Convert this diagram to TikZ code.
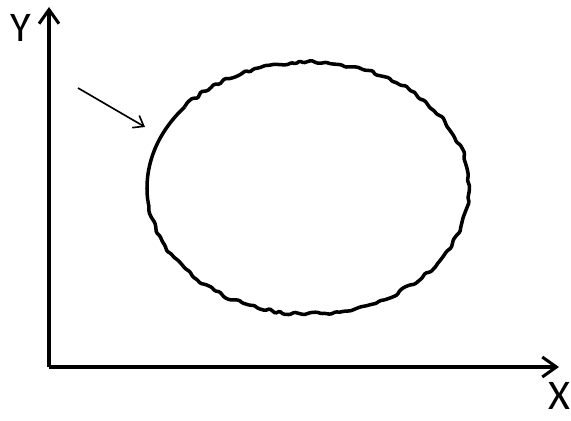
\documentclass[tikz,border=0pt]{standalone}
\usepackage{fontspec}
\setmainfont{Carlito}
\usetikzlibrary{arrows.meta,decorations.pathmorphing}

\begin{document}
\begin{tikzpicture}[x=0.03cm,y=0.03cm]
    \useasboundingbox (0,0) rectangle (571,420);
    \pgfmathsetseed{7}

    % Axes
    \coordinate (origin) at (49,53);
    \coordinate (ytop) at (49,413);
    \coordinate (xend) at (559,53);
    \draw[line width=3pt,-{Straight Barb[length=12pt,width=17pt,line width=2.6pt]}] (origin) -- (ytop);
    \draw[line width=3pt,-{Straight Barb[length=12pt,width=17pt,line width=2.6pt]}] (origin) -- (xend);

    % Axis labels
    \node (ylab) at (21,392) {\fontsize{36}{36}\selectfont Y};
    \node[inner sep=0pt] (xlab) at (559,24) {\fontsize{36}{36}\selectfont X};

    % Draw the ellipse, smooth part first
    \coordinate (c) at (308,232);
    \draw[line width=3pt] ([shift={(140:161 and 126)}]c)
        arc[start angle=140, end angle=186, x radius=161, y radius=126];

    % Rough part
    \draw[line width=3pt, rounded corners=1pt, decorate,
          decoration={random steps, segment length=4.5pt, amplitude=1.5pt}]
        ([shift={(186:161 and 126)}]c)
        arc[start angle=186, end angle=500, x radius=161, y radius=126];

    % Pointer
    \coordinate (tail) at (78,332);
    \coordinate (tip) at (145,293);
    \draw[line width=1.4pt,-{Straight Barb[length=8pt,width=12pt]}] (tail) -- (tip);
\end{tikzpicture}
\end{document}
